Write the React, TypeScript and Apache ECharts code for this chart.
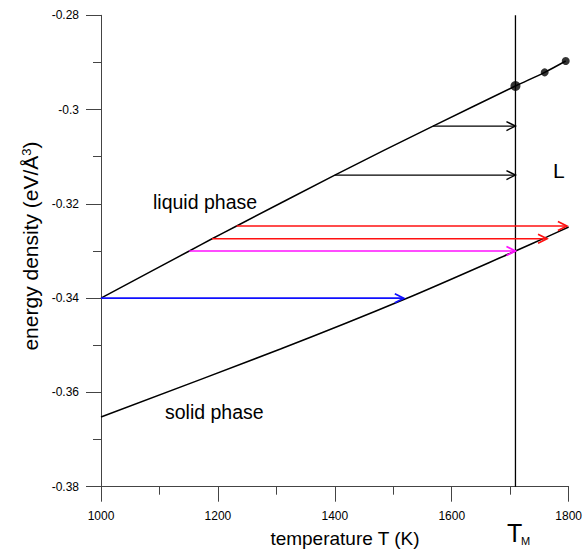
import React, { useEffect, useRef } from "react";
import * as echarts from "echarts";

// Axis ranges / ticks
const T_MIN = 1000;
const T_MAX = 1800;
const T_STEP = 200;
const E_MIN = -0.38;
const E_MAX = -0.28;
const E_STEP = 0.02;

// Melting temperature
const T_M = 1709;

// Liquid-phase curve (T, energy density)
const liquidT = [1000, 1151, 1190, 1232, 1400, 1568, 1709, 1759, 1795];
const liquidE = [-0.34, -0.33, -0.3274, -0.3247, -0.3139, -0.3035, -0.295, -0.2921, -0.2897];

// Solid-phase curve
const solidT = [1000, 1307, 1518, 1709, 1763, 1800];
const solidE = [-0.3652, -0.3508, -0.3403, -0.33, -0.327, -0.3249];

// Dots on liquid curve above T_M
const dotT = [1709, 1759, 1795];
const dotE = [-0.295, -0.2921, -0.2897];
const dotSize = [10, 8, 8];

// Arrows: start T, end T, energy level, colour
const arrowStart = [1000, 1151, 1190, 1232, 1400, 1568];
const arrowEnd = [1518, 1709, 1763, 1797, 1709, 1709];
const arrowE = [-0.34, -0.33, -0.3274, -0.3247, -0.3139, -0.3035];
const arrowColor = ["#1010ff", "#ff10ff", "#ff1010", "#ff1010", "#000000", "#000000"];

const FONT = "'Liberation Sans', Arial, Helvetica, sans-serif";

export default function App() {
  const ref = useRef<HTMLDivElement>(null);

  useEffect(() => {
    if (!ref.current) return;
    const chart = echarts.init(ref.current, null, { renderer: "svg" });

    const axisColor = "#444";
    const option: any = {
      animation: false,
      backgroundColor: "#fff",
      grid: { left: 101, right: 13.3, top: 15.3, bottom: 64.3, containLabel: false },
      xAxis: {
        type: "value",
        min: T_MIN,
        max: T_MAX,
        interval: T_STEP,
        axisLine: { show: true, lineStyle: { color: axisColor, width: 1 } },
        axisTick: { show: true, inside: false, length: 15, lineStyle: { color: axisColor } },
        minorTick: { show: true, splitNumber: 2, length: 8, lineStyle: { color: axisColor } },
        splitLine: { show: false },
        minorSplitLine: { show: false },
        axisLabel: {
          color: "#000",
          fontSize: 12,
          fontFamily: FONT,
          margin: 23,
          formatter: (v: number) => String(v),
        },
      },
      yAxis: {
        type: "value",
        min: E_MIN,
        max: E_MAX,
        interval: E_STEP,
        axisLine: { show: true, lineStyle: { color: axisColor, width: 1 } },
        axisTick: { show: true, inside: false, length: 15, lineStyle: { color: axisColor } },
        minorTick: { show: true, splitNumber: 2, length: 8, lineStyle: { color: axisColor } },
        splitLine: { show: false },
        minorSplitLine: { show: false },
        axisLabel: {
          color: "#000",
          fontSize: 12,
          fontFamily: FONT,
          margin: 22,
          formatter: (v: number) => String(Number(v.toFixed(2))),
        },
      },
      series: [
        {
          type: "line",
          name: "liquid",
          data: liquidT.map((t, i) => [t, liquidE[i]]),
          smooth: 0.3,
          showSymbol: false,
          symbol: "none",
          lineStyle: { color: "#000", width: 1.5 },
          z: 3,
        },
        {
          type: "line",
          name: "solid",
          data: solidT.map((t, i) => [t, solidE[i]]),
          smooth: 0.3,
          showSymbol: false,
          symbol: "none",
          lineStyle: { color: "#000", width: 1.5 },
          z: 3,
        },
        {
          type: "line",
          name: "TM",
          data: [
            [T_M, E_MAX],
            [T_M, E_MIN],
          ],
          showSymbol: false,
          symbol: "none",
          lineStyle: { color: "#000", width: 1.3 },
          z: 3,
        },
        {
          type: "custom",
          name: "arrows",
          data: arrowStart.map((s, i) => [s, arrowEnd[i], arrowE[i], i]),
          encode: { x: [0, 1], y: 2 },
          clip: false,
          z: 4,
          renderItem: (params: any, api: any) => {
            const s = api.coord([api.value(0), api.value(2)]);
            const e = api.coord([api.value(1), api.value(2)]);
            const c = arrowColor[api.value(3)];
            const lw = c === "#000000" ? 1.4 : 1.7;
            return {
              type: "group",
              children: [
                {
                  type: "line",
                  shape: { x1: s[0], y1: s[1], x2: e[0] - 1, y2: e[1] },
                  style: { stroke: c, lineWidth: lw },
                },
                {
                  type: "polyline",
                  shape: {
                    points: [
                      [e[0] - 9, e[1] - 4.5],
                      [e[0], e[1]],
                      [e[0] - 9, e[1] + 4.5],
                    ],
                  },
                  style: { stroke: c, lineWidth: lw, fill: "none" },
                },
              ],
            };
          },
        },
        {
          type: "scatter",
          name: "dots",
          data: dotT.map((t, i) => [t, dotE[i]]),
          symbol: "circle",
          symbolSize: (_v: any, p: any) => dotSize[p.dataIndex],
          itemStyle: { color: "#000" },
          z: 5,
        },
      ],
      graphic: [
        {
          type: "text",
          x: 30,
          y: 246,
          rotation: Math.PI / 2,
          style: {
            text: "{a|energy density (eV/Å}{s|3}{a|)}",
            textAlign: "center",
            textVerticalAlign: "middle",
            fill: "#000",
            rich: {
              a: { fontSize: 21, fontFamily: FONT, fill: "#000" },
              s: { fontSize: 13, fontFamily: FONT, fill: "#000", verticalAlign: "top" },
            },
          },
        },
        {
          type: "text",
          x: 345,
          y: 538,
          style: {
            text: "temperature T (K)",
            textAlign: "center",
            textVerticalAlign: "middle",
            fontSize: 19,
            fontFamily: FONT,
            fill: "#000",
          },
        },
        {
          type: "text",
          x: 153,
          y: 202,
          style: {
            text: "liquid phase",
            textAlign: "left",
            textVerticalAlign: "middle",
            fontSize: 19.5,
            fontFamily: FONT,
            fill: "#000",
          },
        },
        {
          type: "text",
          x: 165,
          y: 412,
          style: {
            text: "solid phase",
            textAlign: "left",
            textVerticalAlign: "middle",
            fontSize: 19.5,
            fontFamily: FONT,
            fill: "#000",
          },
        },
        {
          type: "text",
          x: 553,
          y: 170,
          style: {
            text: "L",
            textAlign: "left",
            textVerticalAlign: "middle",
            fontSize: 21,
            fontFamily: FONT,
            fill: "#000",
          },
        },
        {
          type: "text",
          x: 507,
          y: 533,
          style: {
            text: "T",
            textAlign: "left",
            textVerticalAlign: "middle",
            fontSize: 25,
            fontFamily: FONT,
            fill: "#000",
          },
        },
        {
          type: "text",
          x: 521,
          y: 541,
          style: {
            text: "M",
            textAlign: "left",
            textVerticalAlign: "middle",
            fontSize: 11,
            fontFamily: FONT,
            fill: "#000",
          },
        },
      ],
    };

    chart.setOption(option);
    return () => chart.dispose();
  }, []);

  return (
    <div
      ref={ref}
      style={{ position: "fixed", left: 0, top: 0, width: 585, height: 551, background: "#fff" }}
    />
  );
}
